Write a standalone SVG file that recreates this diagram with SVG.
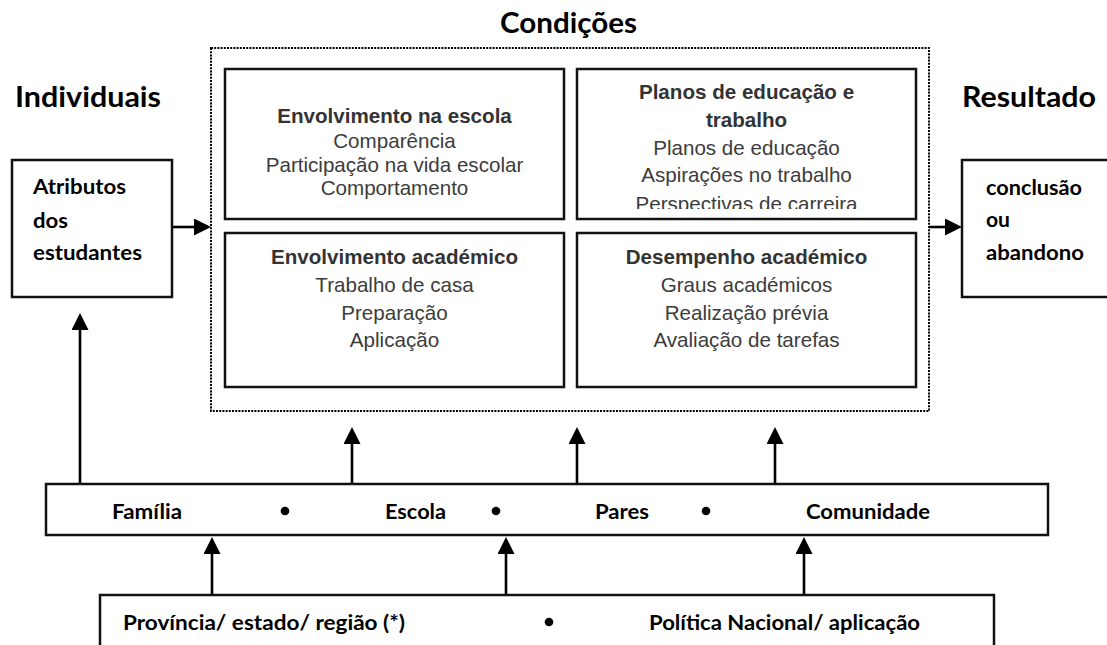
<svg xmlns="http://www.w3.org/2000/svg" width="1107" height="645" viewBox="0 0 1107 645">
<defs>
<style>
.box{fill:#fff;stroke:#111;stroke-width:2.5}
.dot{fill:none;stroke:#000;stroke-width:2;stroke-dasharray:2 1.2}
.ar{font-family:"Liberation Sans",Arial,sans-serif;font-size:20.6px;fill:#3c3c3c;text-anchor:middle}
.arb{font-family:"Liberation Sans",Arial,sans-serif;font-size:20.6px;font-weight:bold;fill:#333;text-anchor:middle}
.cb{font-family:Lato,"Open Sans",sans-serif;font-weight:bold;fill:#000}
.big{font-size:28.5px}
.mid{font-size:21.5px}
.conn{stroke:#000;stroke-width:2.6;fill:none;marker-end:url(#ah)}
</style>
<marker id="ah" markerUnits="userSpaceOnUse" markerWidth="18" markerHeight="18" refX="5" refY="8.5" orient="auto">
<path d="M0,0 L17,8.5 L0,17 z" fill="#000"/>
</marker>
<clipPath id="clipTR"><rect x="577" y="69" width="339" height="140"/></clipPath>
</defs>
<rect width="1107" height="645" fill="#fff"/>

<g id="headings">
<text class="cb big" x="15" y="107" textLength="146" lengthAdjust="spacingAndGlyphs">Individuais</text>
<text class="cb big" x="500" y="33" textLength="137" lengthAdjust="spacingAndGlyphs">Condições</text>
<text class="cb big" x="962" y="107" textLength="134" lengthAdjust="spacingAndGlyphs">Resultado</text>
</g>

<g id="condicoes">
<rect class="dot" x="211" y="48" width="718" height="363"/>
</g>

<g id="atributos">
<rect class="box" x="12" y="160" width="160" height="137"/>
<text class="cb mid" x="33" y="194" textLength="93" lengthAdjust="spacingAndGlyphs">Atributos</text>
<text class="cb mid" x="33" y="228" textLength="35" lengthAdjust="spacingAndGlyphs">dos</text>
<text class="cb mid" x="33" y="260" textLength="109" lengthAdjust="spacingAndGlyphs">estudantes</text>
</g>

<g id="resultado">
<rect class="box" x="962" y="160" width="160" height="137"/>
<text class="cb mid" x="986" y="195" textLength="96" lengthAdjust="spacingAndGlyphs">conclusão</text>
<text class="cb mid" x="986" y="227" textLength="24" lengthAdjust="spacingAndGlyphs">ou</text>
<text class="cb mid" x="986" y="260" textLength="98" lengthAdjust="spacingAndGlyphs">abandono</text>
</g>

<g id="envolvimento-escola">
<rect class="box" x="225" y="69" width="339" height="150"/>
<text class="arb" x="394.5" y="123">Envolvimento na escola</text>
<text class="ar" x="394.5" y="147.5">Comparência</text>
<text class="ar" x="394.5" y="171.5">Participação na vida escolar</text>
<text class="ar" x="394.5" y="195">Comportamento</text>
</g>

<g id="planos">
<rect class="box" x="577" y="69" width="339" height="150"/>
<g clip-path="url(#clipTR)">
<text class="arb" x="746.5" y="99">Planos de educação e</text>
<text class="arb" x="746.5" y="127">trabalho</text>
<text class="ar" x="746.5" y="155">Planos de educação</text>
<text class="ar" x="746.5" y="182">Aspirações no trabalho</text>
<text class="ar" x="746.5" y="211">Perspectivas de carreira</text>
</g>
</g>

<g id="envolvimento-academico">
<rect class="box" x="225" y="233" width="339" height="154"/>
<text class="arb" x="394.5" y="264">Envolvimento académico</text>
<text class="ar" x="394.5" y="292">Trabalho de casa</text>
<text class="ar" x="394.5" y="320">Preparação</text>
<text class="ar" x="394.5" y="347">Aplicação</text>
</g>

<g id="desempenho">
<rect class="box" x="577" y="233" width="339" height="154"/>
<text class="arb" x="746.5" y="264">Desempenho académico</text>
<text class="ar" x="746.5" y="292">Graus académicos</text>
<text class="ar" x="746.5" y="320">Realização prévia</text>
<text class="ar" x="746.5" y="347">Avaliação de tarefas</text>
</g>

<g id="contextos">
<rect class="box" x="46" y="484" width="1002" height="51"/>
<text class="cb mid" x="112" y="519" textLength="70" lengthAdjust="spacingAndGlyphs">Família</text>
<circle cx="285" cy="511" r="4.3" fill="#000"/>
<text class="cb mid" x="385" y="519" textLength="61" lengthAdjust="spacingAndGlyphs">Escola</text>
<circle cx="496" cy="511" r="4.3" fill="#000"/>
<text class="cb mid" x="595" y="519" textLength="54" lengthAdjust="spacingAndGlyphs">Pares</text>
<circle cx="706" cy="511" r="4.3" fill="#000"/>
<text class="cb mid" x="806" y="519" textLength="124" lengthAdjust="spacingAndGlyphs">Comunidade</text>
</g>

<g id="politicas">
<rect class="box" x="100" y="595" width="894" height="70"/>
<text class="cb mid" x="123" y="630" textLength="282" lengthAdjust="spacingAndGlyphs">Província/ estado/ região (*)</text>
<circle cx="549" cy="622" r="4.3" fill="#000"/>
<text class="cb mid" x="649" y="630" textLength="271" lengthAdjust="spacingAndGlyphs">Política Nacional/ aplicação</text>
</g>

<g id="connectors">
<line class="conn" x1="172" y1="227" x2="199" y2="227"/>
<line class="conn" x1="929" y1="227" x2="950" y2="227"/>
<line class="conn" x1="80" y1="484" x2="80" y2="325"/>
<line class="conn" x1="352" y1="484" x2="352" y2="439"/>
<line class="conn" x1="577" y1="484" x2="577" y2="439"/>
<line class="conn" x1="775" y1="484" x2="775" y2="439"/>
<line class="conn" x1="212" y1="595" x2="212" y2="549"/>
<line class="conn" x1="506" y1="595" x2="506" y2="549"/>
<line class="conn" x1="804" y1="595" x2="804" y2="549"/>
</g>
</svg>
